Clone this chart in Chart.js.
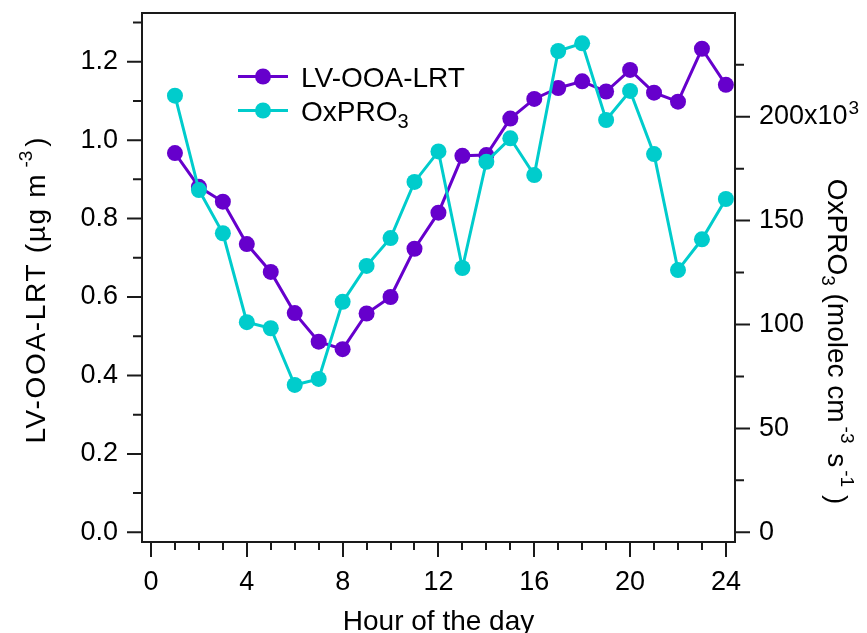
<!DOCTYPE html>
<html><head><meta charset="utf-8">
<script src="https://cdn.jsdelivr.net/npm/chart.js@4.4.0/dist/chart.umd.min.js"></script>
<style>html,body{margin:0;padding:0;background:#fff}</style>
</head><body>
<canvas id="c" width="867" height="633"></canvas>
<script>
// ---- data ----
const hours = [1,2,3,4,5,6,7,8,9,10,11,12,13,14,15,16,17,18,19,20,21,22,23,24];
const lvooaLRT = [0.967,0.881,0.843,0.735,0.664,0.559,0.486,0.467,0.558,0.600,0.723,0.815,
                  0.960,0.962,1.055,1.105,1.133,1.150,1.124,1.179,1.121,1.098,1.233,1.141];
const oxpro3 = [210.1,164.7,143.9,101.1,98.2,70.9,73.8,110.9,128.2,141.6,168.6,183.3,
                127.2,178.3,189.6,171.9,231.6,235.3,198.4,212.4,182.0,126.2,141.0,160.4];
const seriesNames = ['LV-OOA-LRT','OxPRO3'];
const xTitle = 'Hour of the day';

const FONT = "'Liberation Sans', Arial, Helvetica, sans-serif";
const PURPLE = '#6600cc';
const CYAN = '#00cccc';
const TICK_SIZE = 27, TITLE_SIZE = 28;

function drawRich(ctx, segs, x, y, angle, baseSize, align){
  ctx.save();
  ctx.translate(x, y); ctx.rotate(angle);
  ctx.textBaseline = 'alphabetic'; ctx.textAlign = 'left'; ctx.fillStyle = '#000';
  const widths = [];
  let total = 0;
  for (const s of segs){
    ctx.font = (s.size||baseSize)+'px '+FONT;
    ctx.letterSpacing = (s.ls||0)+'px';
    const w = ctx.measureText(s.t).width;
    widths.push(w);
    total += (s.gap||0) + w;
  }
  let cx = align === 'center' ? -total/2 : 0;
  segs.forEach((s, i) => {
    ctx.font = (s.size||baseSize)+'px '+FONT;
    ctx.letterSpacing = (s.ls||0)+'px';
    cx += s.gap||0;
    ctx.fillText(s.t, cx, s.dy||0);
    cx += widths[i];
  });
  ctx.letterSpacing = '0px';
  ctx.restore();
}

const overlay = {
  id:'overlay',
  afterDraw(chart){
    const ctx = chart.ctx, a = chart.chartArea;
    const sx = chart.scales.x, sy = chart.scales.y, sy2 = chart.scales.y2;
    ctx.save();
    ctx.strokeStyle = '#1a1a1a'; ctx.lineWidth = 2;
    ctx.strokeRect(a.left, a.top, a.right - a.left, a.bottom - a.top);
    ctx.beginPath();
    // x ticks
    for (let v = 0; v <= 24; v += 1){
      const p = Math.round(sx.getPixelForValue(v));
      const len = (v % 4 === 0) ? 15 : 8;
      ctx.moveTo(p, a.bottom); ctx.lineTo(p, a.bottom + len);
    }
    // left ticks
    for (let k = 0; k <= 13; k++){
      const p = sy.getPixelForValue(k/10);
      const len = (k % 2 === 0) ? 15 : 9;
      ctx.moveTo(a.left, p); ctx.lineTo(a.left - len, p);
    }
    // right ticks
    for (let v = 0; v <= 225; v += 25){
      const p = sy2.getPixelForValue(v);
      const len = (v % 50 === 0) ? 15 : 9;
      ctx.moveTo(a.right, p); ctx.lineTo(a.right + len, p);
    }
    ctx.stroke();

    // superscript exponent of the right-axis 200 label
    ctx.font = TICK_SIZE + 'px ' + FONT;
    const wMain = ctx.measureText('200x10').width;
    ctx.font = '19px ' + FONT;
    ctx.fillStyle = '#000'; ctx.textBaseline = 'alphabetic'; ctx.textAlign = 'left';
    ctx.fillText('3', a.right + 24 + wMain + 1, sy2.getPixelForValue(200) - 3);

    // legend
    const ds = chart.data.datasets;
    const entries = [ds[1], ds[0]];
    entries.forEach((d, i) => {
      const y = 76.5 + i*34;
      ctx.strokeStyle = d.borderColor; ctx.lineWidth = 3;
      ctx.beginPath(); ctx.moveTo(238, y); ctx.lineTo(288, y); ctx.stroke();
      ctx.fillStyle = d.borderColor;
      ctx.beginPath(); ctx.arc(263, y, 8, 0, Math.PI*2); ctx.fill();
    });
    ctx.fillStyle = '#000';
    drawRich(ctx, [{t:'LV-OOA-LRT'}], 301, 86.5, 0, TITLE_SIZE);
    drawRich(ctx, [{t:'OxPRO'},{t:'3', size:20, dy:7}], 301, 120.5, 0, TITLE_SIZE);

    // axis titles
    drawRich(ctx, [{t:xTitle}], (a.left + a.right)/2, 630, 0, TITLE_SIZE, 'center');
    drawRich(ctx, [{t:'LV-OOA-LRT (µg m', ls:1.7},{t:'-3', size:19, dy:-13, gap:5},{t:')', gap:4}],
             45, 290.5, -Math.PI/2, TITLE_SIZE, 'center');
    drawRich(ctx, [{t:'OxPRO'},{t:'3', size:19, dy:6},{t:' (molec cm'},{t:'-3', size:19, dy:-13, gap:4},
                   {t:' s', gap:2},{t:'-1', size:19, dy:-13, gap:3},{t:' )'}],
             828, 341.5, Math.PI/2, TITLE_SIZE, 'center');
    ctx.restore();
  }
};

const tickFont = {family: FONT, size: TICK_SIZE};
new Chart(document.getElementById('c').getContext('2d'), {
  type: 'line',
  data: {
    datasets: [
      {label: seriesNames[1], data: hours.map((h,i)=>({x:h, y:oxpro3[i]})), yAxisID:'y2',
       borderColor: CYAN, backgroundColor: CYAN, borderWidth: 3, pointRadius: 8, pointHoverRadius: 8,
       pointBorderWidth: 0, pointBackgroundColor: CYAN, tension: 0, order: 0},
      {label: seriesNames[0], data: hours.map((h,i)=>({x:h, y:lvooaLRT[i]})), yAxisID:'y',
       borderColor: PURPLE, backgroundColor: PURPLE, borderWidth: 3, pointRadius: 8, pointHoverRadius: 8,
       pointBorderWidth: 0, pointBackgroundColor: PURPLE, tension: 0, order: 1}
    ]
  },
  options: {
    responsive: false, animation: false, devicePixelRatio: 1, events: [],
    layout: {padding: {top: 13, left: 0, right: 0, bottom: 0}},
    plugins: {legend: {display: false}, tooltip: {enabled: false}},
    scales: {
      x: {type: 'linear', position: 'bottom', min: -0.376, max: 24.38,
          afterFit: s => { s.height = 91; s.paddingLeft = 0; s.paddingRight = 0; },
          grid: {display: false, drawTicks: false}, border: {display: false},
          ticks: {stepSize: 4, includeBounds: false, padding: 24, font: tickFont, color: '#000',
                  maxRotation: 0, autoSkip: false}},
      y: {type: 'linear', position: 'left', min: -0.0247, max: 1.3242,
          afterFit: s => { s.width = 142; s.paddingTop = 0; s.paddingBottom = 0; },
          grid: {display: false, drawTicks: false}, border: {display: false},
          ticks: {stepSize: 0.2, includeBounds: false, padding: 24, font: tickFont, color: '#000',
                  callback: v => Number(v).toFixed(1)}},
      y2: {type: 'linear', position: 'right', min: -4.67, max: 249.9,
          afterFit: s => { s.width = 132; s.paddingTop = 0; s.paddingBottom = 0; },
          grid: {display: false, drawTicks: false}, border: {display: false},
          ticks: {stepSize: 50, includeBounds: false, padding: 24, font: tickFont, color: '#000',
                  callback: v => Math.round(v) === 200 ? '200x10' : String(Math.round(v))}}
    }
  },
  plugins: [overlay]
});
</script>
</body></html>
